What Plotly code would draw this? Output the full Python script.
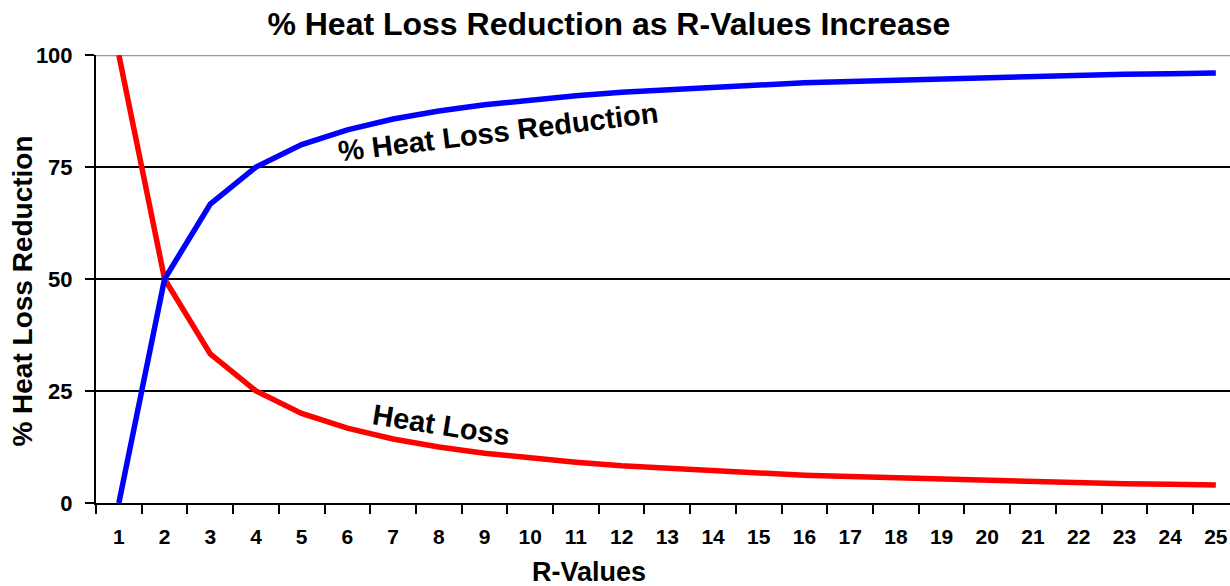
import plotly.graph_objects as go

r_values = [str(i) for i in range(1, 26)]
heat_loss_reduction = [0, 50, 66.7, 75, 80, 83.3, 85.7, 87.5, 88.9, 90, 90.9, 91.7, 92.3,
                       92.9, 93.3, 93.8, 94.1, 94.4, 94.7, 95, 95.2, 95.5, 95.7, 95.8, 96]
heat_loss = [100, 50, 33.3, 25, 20, 16.7, 14.3, 12.5, 11.1, 10, 9.1, 8.3, 7.7,
             7.1, 6.7, 6.2, 5.9, 5.6, 5.3, 5, 4.8, 4.5, 4.3, 4.2, 4]
y_ticks = [0, 25, 50, 75, 100]

FONT = "Liberation Sans, Arial, sans-serif"

fig = go.Figure()
fig.add_trace(go.Scatter(x=r_values, y=heat_loss, mode="lines",
                         line=dict(color="#FF0000", width=5.5), showlegend=False))
fig.add_trace(go.Scatter(x=r_values, y=heat_loss_reduction, mode="lines",
                         line=dict(color="#0000FF", width=5.5), showlegend=False))

for v in y_ticks[1:-1]:
    fig.add_shape(type="line", xref="paper", x0=0, x1=1, yref="y", y0=v, y1=v,
                  line=dict(color="black", width=2), layer="below")
fig.add_shape(type="line", xref="paper", x0=0, x1=1, yref="y", y0=100, y1=100,
              line=dict(color="#999999", width=2.5), layer="below")

fig.update_layout(
    width=1230, height=586,
    margin=dict(l=96, r=0, t=55, b=83),
    paper_bgcolor="white", plot_bgcolor="white",
    font=dict(family=FONT, color="black"),
    title=dict(text="<b>% Heat Loss Reduction as R-Values Increase</b>",
               x=0.495, xanchor="center", y=0.959, yanchor="middle",
               font=dict(size=32, family=FONT, color="black")),
    xaxis=dict(type="category", range=[-0.5, 24.31], tickson="boundaries",
               ticks="outside", ticklen=9, tickwidth=2, tickcolor="black",
               showline=True, linecolor="black", linewidth=2, showgrid=False,
               tickfont=dict(size=21, family=FONT, weight="bold"),
               ticklabelstandoff=14, automargin=False),
    yaxis=dict(range=[0, 100], tickvals=y_ticks, ticks="outside", ticklen=9,
               tickwidth=2, tickcolor="black", showline=True, linecolor="black",
               linewidth=2, showgrid=False, zeroline=False,
               tickfont=dict(size=22, family=FONT, weight="bold"),
               ticklabelstandoff=8, automargin=False),
)

ann_common = dict(xref="paper", yref="paper", showarrow=False,
                  xanchor="center", yanchor="middle")
fig.add_annotation(text="<b>% Heat Loss Reduction</b>", x=-0.0644, y=0.474,
                   textangle=-90, font=dict(size=28, family=FONT, color="black"),
                   **ann_common)
fig.add_annotation(text="<b>R-Values</b>", x=0.435, y=-0.154,
                   font=dict(size=27, family=FONT, color="black"), **ann_common)
fig.add_annotation(text="<b>% Heat Loss Reduction</b>", x=0.3545, y=0.828,
                   textangle=-7, font=dict(size=29, family=FONT, color="black"),
                   **ann_common)
fig.add_annotation(text="<b>Heat Loss</b>", x=0.305, y=0.174, textangle=9,
                   font=dict(size=29, family=FONT, color="black"), **ann_common)

fig.write_html("out.html", post_script="document.body.style.margin='0';",
               config={"displayModeBar": False})
